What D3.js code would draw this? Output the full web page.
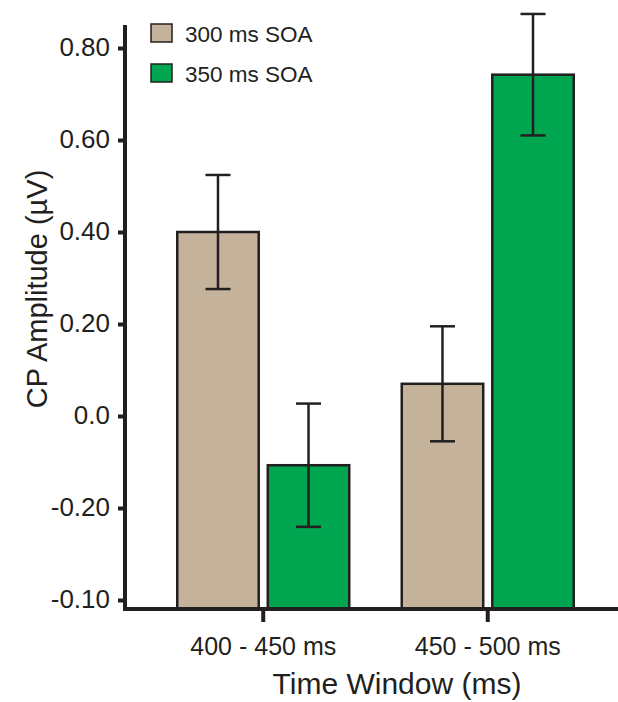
<!DOCTYPE html>
<html>
<head>
<meta charset="utf-8">
<script src="https://cdn.jsdelivr.net/npm/d3@7"></script>
<style>
  body { margin: 0; background: #fff; }
  text { font-family: "Liberation Sans", Arial, sans-serif; fill: #231f20; }
</style>
</head>
<body>
<div class="chart"></div>
<script>
const groups = ['400 - 450 ms', '450 - 500 ms'];
const series = ['300 ms SOA', '350 ms SOA'];
const means300 = [0.40, 0.07];
const means350 = [-0.107, 0.742];
const err300 = [0.124, 0.125];
const err350 = [0.134, 0.132];
const yTickValues = [0.8, 0.6, 0.4, 0.2, 0, -0.2, -0.4];
const yTickLabels = ['0.80', '0.60', '0.40', '0.20', '0.0', '-0.20', '-0.10'];
const colors = ['#c4b39a', '#00a54f'];

const data = [];
groups.forEach((g, i) => {
	data.push({group: g, series: series[0], value: means300[i], err: err300[i]});
	data.push({group: g, series: series[1], value: means350[i], err: err350[i]});
});

const width = 618, height = 702;
const axisX = 125, axisBottom = 609, axisTop = 25;

const svg = d3.select('.chart').append('svg')
	.attr('width', width)
	.attr('height', height);

const yScale = d3.scaleLinear()
	.domain([-0.4, 0.8])
	.range([600, 48]);

const xScale = d3.scaleBand()
	.domain(groups)
	.range([151, 600]);

const xSub = d3.scaleBand()
	.domain(series)
	.range([-86, 86])
	.paddingInner(0.1);

const color = d3.scaleOrdinal().domain(series).range(colors);

// bars (drawn from the bottom axis up)
svg.selectAll('.bar')
	.data(data)
	.enter()
	.append('rect')
	.attr('class', 'bar')
	.attr('x', d => xScale(d.group) + xScale.bandwidth() / 2 + xSub(d.series))
	.attr('width', xSub.bandwidth())
	.attr('y', d => yScale(d.value))
	.attr('height', d => axisBottom - yScale(d.value))
	.attr('fill', d => color(d.series))
	.attr('stroke', '#231f20')
	.attr('stroke-width', 2.5);

// error bars
const eb = svg.selectAll('.err')
	.data(data)
	.enter()
	.append('g')
	.attr('class', 'err')
	.attr('transform', d => `translate(${xScale(d.group) + xScale.bandwidth() / 2 + xSub(d.series) + xSub.bandwidth() / 2},0)`)
	.attr('stroke', '#231f20')
	.attr('stroke-width', 2.5);

eb.append('line')
	.attr('y1', d => yScale(d.value + d.err))
	.attr('y2', d => yScale(d.value - d.err));
eb.append('line')
	.attr('x1', -12.5).attr('x2', 12.5)
	.attr('y1', d => yScale(d.value + d.err))
	.attr('y2', d => yScale(d.value + d.err));
eb.append('line')
	.attr('x1', -12.5).attr('x2', 12.5)
	.attr('y1', d => yScale(d.value - d.err))
	.attr('y2', d => yScale(d.value - d.err));

// y axis
const yAxis = d3.axisLeft(yScale)
	.tickValues(yTickValues)
	.tickFormat((d, i) => yTickLabels[i])
	.tickSize(7)
	.tickPadding(8);

const gy = svg.append('g')
	.attr('class', 'axis y-axis')
	.attr('transform', `translate(${axisX},0)`)
	.call(yAxis);
gy.select('.domain').remove();
gy.selectAll('.tick line').attr('stroke', '#231f20').attr('stroke-width', 4);
gy.selectAll('.tick text')
	.attr('font-size', '26px')
	.attr('dy', '0.27em')
	.attr('fill', '#231f20');

// x axis
const xAxis = d3.axisBottom(xScale)
	.tickSize(0)
	.tickPadding(28);

const gx = svg.append('g')
	.attr('class', 'axis x-axis')
	.attr('transform', `translate(0,${axisBottom})`)
	.call(xAxis);
gx.select('.domain').remove();
gx.selectAll('.tick text').attr('font-size', '25px').attr('fill', '#231f20');
gx.selectAll('.tick').append('line')
	.attr('y1', 0).attr('y2', 13)
	.attr('stroke', '#231f20')
	.attr('stroke-width', 4);

svg.append('line')
	.attr('x1', axisX).attr('x2', axisX)
	.attr('y1', axisTop).attr('y2', axisBottom + 2)
	.attr('stroke', '#231f20')
	.attr('stroke-width', 4);

svg.append('line')
	.attr('x1', axisX - 2).attr('x2', width)
	.attr('y1', axisBottom).attr('y2', axisBottom)
	.attr('stroke', '#231f20')
	.attr('stroke-width', 4);

// axis titles
svg.append('text')
	.attr('x', 397)
	.attr('y', 694)
	.attr('text-anchor', 'middle')
	.attr('font-size', '30px')
	.text('Time Window (ms)');

svg.append('text')
	.attr('transform', 'translate(47,289) rotate(-90)')
	.attr('text-anchor', 'middle')
	.attr('font-size', '29px')
	.text('CP Amplitude (\u00b5V)');

// legend
const legend = svg.selectAll('.legend')
	.data(series)
	.enter()
	.append('g')
	.attr('class', 'legend')
	.attr('transform', (d, i) => `translate(151,${24 + i * 40})`);

legend.append('rect')
	.attr('width', 21)
	.attr('height', 18)
	.attr('fill', d => color(d))
	.attr('stroke', '#231f20')
	.attr('stroke-width', 1.5);

legend.append('text')
	.attr('x', 34)
	.attr('y', 18)
	.attr('font-family', '"Open Sans", sans-serif')
	.attr('font-size', '22.5px')
	.text(d => d);
</script>
</body>
</html>
